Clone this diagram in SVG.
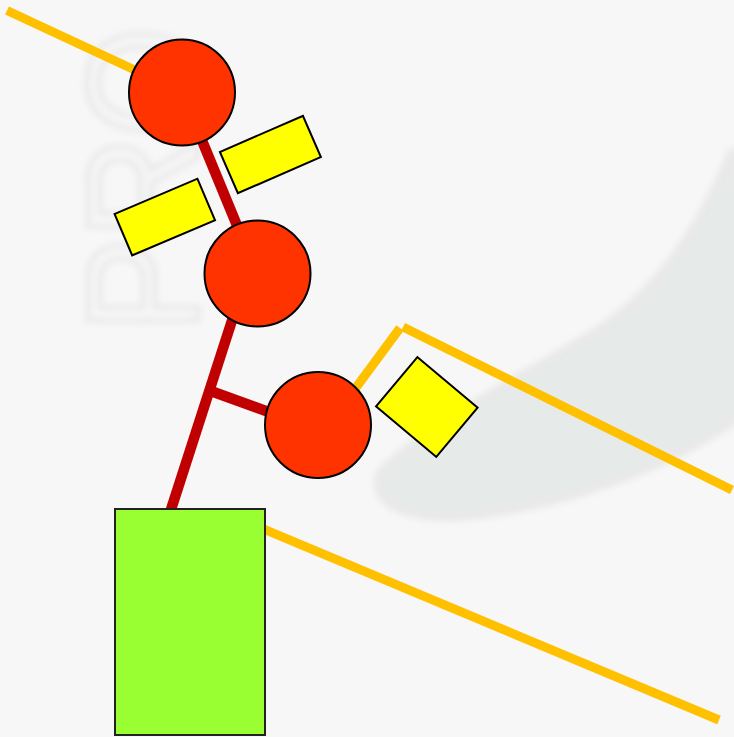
<svg xmlns="http://www.w3.org/2000/svg" width="734" height="737" viewBox="0 0 734 737">
<defs>
<filter id="soft" x="-10%" y="-10%" width="120%" height="120%"><feGaussianBlur stdDeviation="3"/></filter>
</defs>
<style>
.bg{fill:#f7f7f7}
.wm{fill:none;stroke:#e8e8e8;stroke-width:5;font-family:"Liberation Sans",Arial,sans-serif}
.rail{stroke:#ffc000;stroke-width:9;fill:none;stroke-linecap:butt}
.link{stroke:#c00000;stroke-width:10.5;fill:none;stroke-linecap:butt}
.joint{fill:#ff3300;stroke:#000;stroke-width:2}
.pad{fill:#ffff00;stroke:#000;stroke-width:2}
.base{fill:#99ff33;stroke:#222;stroke-width:2}
</style>
<rect class="bg" x="0" y="0" width="734" height="737"/>
<g id="watermark" filter="url(#soft)">
<path d="M380,475 C420,430 520,380 600,330 C660,290 700,230 734,150 L734,420 C660,470 560,505 470,515 C410,520 372,505 380,475 Z" fill="#e6ebe9" stroke="#e8e8e8" stroke-width="10"/>
<text class="wm" transform="translate(198,332) rotate(-90)" font-size="160" textLength="305" lengthAdjust="spacingAndGlyphs">PRO</text>
</g>
<g id="connectors">
<line class="rail" x1="7" y1="10.5" x2="182" y2="92"/>
<line class="link" x1="182" y1="92" x2="257" y2="274"/>
<line class="link" x1="247" y1="274" x2="166" y2="525"/>
<line class="link" x1="208" y1="390" x2="318" y2="430"/>
<line class="rail" x1="335" y1="416" x2="400" y2="328"/>
<line class="rail" x1="403" y1="327" x2="732" y2="490"/>
<line class="rail" x1="230" y1="515" x2="719" y2="720"/>
</g>
<g id="pad-a"><rect class="pad" x="-45.25" y="-22.5" width="90.5" height="45" transform="translate(270.4,154.5) rotate(-23.5)"/></g>
<g id="pad-b"><rect class="pad" x="-45" y="-22.5" width="90" height="45" transform="translate(164.8,217.1) rotate(-23)"/></g>
<g id="pad-c"><rect class="pad" x="-39.3" y="-32.2" width="78.6" height="64.3" transform="translate(426.8,407) rotate(40)"/></g>
<g id="joint-1"><circle class="joint" cx="182" cy="92.5" r="53"/></g>
<g id="joint-2"><circle class="joint" cx="257.5" cy="273.5" r="53"/></g>
<g id="joint-3"><circle class="joint" cx="318" cy="425" r="53"/></g>
<g id="base"><rect class="base" x="115" y="509" width="150" height="226"/></g>
</svg>
